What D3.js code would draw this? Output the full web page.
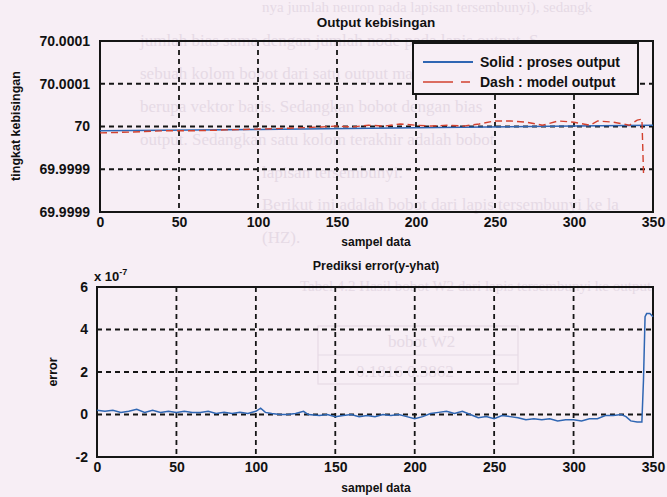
<!DOCTYPE html>
<html>
<head>
<meta charset="utf-8">
<script src="https://cdn.jsdelivr.net/npm/d3@7"></script>
<style>
  body { margin: 0; background: #f7eef5; }
  svg { display: block; }
  .tick text { font-family: "Liberation Sans", Arial, sans-serif; font-weight: bold; font-size: 14px; fill: #111; }
  .lbl { font-family: "Liberation Sans", Arial, sans-serif; font-weight: bold; fill: #111; }
  .bgtext { font-family: "Liberation Serif", "DejaVu Serif", serif; font-size: 17px; fill: #e6dae5; }
</style>
</head>
<body>
<div id="chart"></div>
<script>
const W = 667, H = 497;

// x axis ticks (sample index)
const xTicks = [0, 50, 100, 150, 200, 250, 300, 350];

// top plot: output kebisingan
const outYTicks = [69.9998, 69.9999, 70, 70.0001, 70.0002];
const outYLabels = ["69.9999", "69.9999", "70", "70.0001", "70.0001"];
const procX = [0, 100, 200, 300, 350];
const procY = [69.99999, 69.999993, 69.999997, 70.000001, 70.000003];
const modelX = [0, 20, 40, 60, 80, 100, 120, 140, 150, 160, 170, 180, 190, 200, 210, 220, 230, 240,
  250, 260, 270, 280, 290, 300, 310, 315, 325, 335, 340, 343, 344, 345];
const modelY = [69.999985, 69.999987, 69.99999, 69.99999, 69.999992, 69.999994, 69.999996, 69.999999,
  70.000001, 69.999999, 70.000003, 70.000001, 70.000006, 70.000003, 70.000001, 70.000003, 70.000001,
  70.000006, 70.000013, 70.000013, 70.00001, 70.000003, 70.000013, 70.00001, 70.000003, 70.000013,
  70.00001, 70.000003, 70.000015, 70.000017, 69.99989, 69.999884];

// bottom plot: prediksi error (x 1e-7)
const errYTicks = [-2, 0, 2, 4, 6];
const errX = [0, 5, 10, 15, 20, 25, 30, 35, 40, 45, 50, 55, 60, 65, 70, 75, 80, 85, 90, 95, 100, 103,
  106, 110, 115, 120, 125, 130, 133, 140, 145, 150, 155, 160, 165, 170, 175, 180, 185, 190, 195, 200,
  205, 210, 215, 220, 225, 230, 235, 240, 245, 250, 255, 260, 265, 270, 275, 280, 285, 290, 295, 300,
  305, 310, 315, 320, 325, 330, 333, 336, 340, 343, 344, 345, 346, 348, 350];
const errY = [0.2, 0.15, 0.2, 0.1, 0.15, 0.25, 0.1, 0.2, 0.1, 0.15, 0.1, 0.15, 0.1, 0.1, 0.15, 0.05,
  0.1, 0.05, 0.1, 0.05, 0.15, 0.3, 0.1, 0.05, 0, 0, 0.05, 0.15, 0, -0.05, 0, -0.1, -0.05, 0, -0.1,
  -0.05, -0.1, 0, -0.05, 0, -0.1, -0.2, -0.1, 0.05, 0.1, 0.15, 0.05, 0.15, 0, -0.15, -0.1, -0.2,
  -0.05, -0.1, -0.15, -0.25, -0.2, -0.25, -0.2, -0.3, -0.25, -0.25, -0.3, -0.2, -0.2, -0.05, -0.05,
  0, -0.1, -0.3, -0.35, -0.35, 1.6, 4.6, 4.75, 4.75, 4.6];

// faint text of the scanned page behind the figure
const pageLines = [
  [262, 12, 15, "nya jumlah neuron pada lapisan tersembunyi), sedangk"],
  [140, 46, 17, "jumlah bias sama dengan jumlah node pada lapis output. S"],
  [140, 79, 17, "sebuah kolom bobot dari satu output maka bobot W"],
  [140, 112, 17, "berupa vektor baris. Sedangkan bobot dengan bias"],
  [140, 145, 17, "output. Sedangkan satu kolom terakhir adalah bobot"],
  [262, 178, 17, "lapisan tersembunyi."],
  [262, 210, 17, "Berikut ini adalah bobot dari lapis tersembunyi ke la"],
  [262, 243, 17, "(HZ)."],
  [300, 291, 15, "Tabel 4.2 Hasil bobot W2 dari lapis tersembunyi ke output"],
  [388, 347, 17, "bobot W2"],
  [356, 377, 17, "0.1816     0.3862"],
];

const svg = d3.select("#chart").append("svg").attr("width", W).attr("height", H);

svg.selectAll(".bgtext").data(pageLines).enter().append("text")
  .attr("class", "bgtext")
  .attr("x", d => d[0]).attr("y", d => d[1]).style("font-size", d => d[2] + "px").text(d => d[3]);
svg.append("rect").attr("x", 318).attr("y", 326).attr("width", 200).attr("height", 58)
  .attr("fill", "none").attr("stroke", "#e6dae5").attr("stroke-width", 1.2);
svg.append("line").attr("x1", 318).attr("x2", 518).attr("y1", 355).attr("y2", 355)
  .attr("stroke", "#e6dae5").attr("stroke-width", 1.2);

const gridStyle = sel => sel.attr("stroke", "#151515").attr("stroke-width", 1.8)
  .attr("stroke-dasharray", "5,4");

function panel(opt) {
  const x = d3.scaleLinear().domain([0, 350]).range([opt.left, opt.right]);
  const y = d3.scaleLinear().domain(opt.yDomain).range([opt.bottom, opt.top]);
  const g = svg.append("g");

  // grid
  g.selectAll(".vg").data(xTicks.slice(1, -1)).enter().append("line")
    .attr("x1", d => x(d)).attr("x2", d => x(d)).attr("y1", opt.top).attr("y2", opt.bottom)
    .call(gridStyle);
  g.selectAll(".hg").data(opt.yTicks.slice(1, -1)).enter().append("line")
    .attr("y1", d => y(d)).attr("y2", d => y(d)).attr("x1", opt.left).attr("x2", opt.right)
    .call(gridStyle);

  // axes
  const xa = g.append("g").attr("transform", `translate(0,${opt.bottom})`)
    .call(d3.axisBottom(x).tickValues(xTicks).tickSize(0).tickPadding(5).tickFormat(d3.format("d")));
  xa.select(".domain").remove();
  const ya = g.append("g").attr("transform", `translate(${opt.left},0)`)
    .call(d3.axisLeft(y).tickValues(opt.yTicks).tickSize(0).tickPadding(opt.yPad)
      .tickFormat((d, i) => opt.yLabels[i]));
  ya.select(".domain").remove();

  g.append("rect").attr("x", opt.left).attr("y", opt.top)
    .attr("width", opt.right - opt.left).attr("height", opt.bottom - opt.top)
    .attr("fill", "none").attr("stroke", "#151515").attr("stroke-width", 2);
  return { x, y, g };
}

// ---- top: Output kebisingan
const p1 = panel({ left: 100, right: 653, top: 41, bottom: 212, yDomain: [69.9998, 70.0002],
  yTicks: outYTicks, yLabels: outYLabels, yPad: 10 });

const line1 = d3.line().x(d => p1.x(d[0])).y(d => p1.y(d[1]));
p1.g.append("path").datum(procX.map((v, i) => [v, procY[i]]))
  .attr("d", line1).attr("fill", "none").attr("stroke", "#2f66b3").attr("stroke-width", 1.6);
p1.g.append("path").datum(modelX.map((v, i) => [v, modelY[i]]))
  .attr("d", line1).attr("fill", "none").attr("stroke", "#d2412f").attr("stroke-width", 1.4)
  .attr("stroke-dasharray", "7,4");

svg.append("text").attr("class", "lbl").attr("x", 376).attr("y", 27)
  .attr("text-anchor", "middle").style("font-size", "13.5px").text("Output kebisingan");
svg.append("text").attr("class", "lbl").attr("x", 376).attr("y", 246)
  .attr("text-anchor", "middle").style("font-size", "12px").text("sampel data");
svg.append("text").attr("class", "lbl").attr("transform", "translate(20,126) rotate(-90)")
  .attr("text-anchor", "middle").style("font-size", "12.5px").text("tingkat kebisingan");

// legend
const leg = svg.append("g");
leg.append("rect").attr("x", 413).attr("y", 43).attr("width", 225).attr("height", 51)
  .attr("fill", "#f7eef5").attr("stroke", "#151515").attr("stroke-width", 2);
leg.append("line").attr("x1", 423).attr("x2", 473).attr("y1", 62).attr("y2", 62)
  .attr("stroke", "#2f66b3").attr("stroke-width", 1.8);
leg.append("line").attr("x1", 423).attr("x2", 473).attr("y1", 82).attr("y2", 82)
  .attr("stroke", "#d2412f").attr("stroke-width", 1.6).attr("stroke-dasharray", "30,8,9,100");
leg.append("text").attr("class", "lbl").attr("x", 480).attr("y", 67).style("font-size", "14px")
  .text("Solid : proses output");
leg.append("text").attr("class", "lbl").attr("x", 480).attr("y", 87).style("font-size", "14px")
  .text("Dash : model output");

// ---- bottom: Prediksi error
const p2 = panel({ left: 97, right: 653, top: 287, bottom: 457, yDomain: [-2, 6],
  yTicks: errYTicks, yLabels: errYTicks.map(String), yPad: 9 });

const line2 = d3.line().x(d => p2.x(d[0])).y(d => p2.y(d[1]));
p2.g.append("path").datum(errX.map((v, i) => [v, errY[i]]))
  .attr("d", line2).attr("fill", "none").attr("stroke", "#2f66b3").attr("stroke-width", 1.5);

svg.append("text").attr("class", "lbl").attr("x", 376).attr("y", 270)
  .attr("text-anchor", "middle").style("font-size", "12.5px").text("Prediksi error(y-yhat)");
svg.append("text").attr("class", "lbl").attr("x", 376).attr("y", 492)
  .attr("text-anchor", "middle").style("font-size", "12px").text("sampel data");
svg.append("text").attr("class", "lbl").attr("transform", "translate(57,372) rotate(-90)")
  .attr("text-anchor", "middle").style("font-size", "12.5px").text("error");
const mult = svg.append("text").attr("class", "lbl").attr("x", 94).attr("y", 281).style("font-size", "13px");
mult.append("tspan").text("x 10");
mult.append("tspan").attr("dy", -6).style("font-size", "9px").text("-7");
</script>
</body>
</html>
